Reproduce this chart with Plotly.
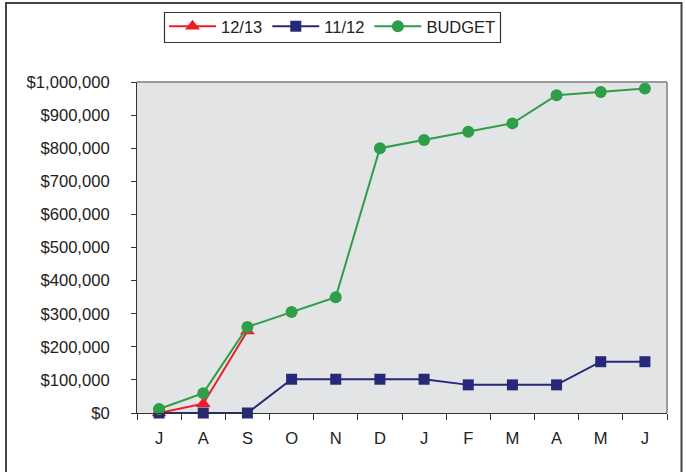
import plotly.graph_objects as go

months = ["J", "A", "S", "O", "N", "D", "J ", "F", "M", "A ", "M ", "J  "]
tick_text = ["J", "A", "S", "O", "N", "D", "J", "F", "M", "A", "M", "J"]
s1213 = [0, 28000, 248000]
s1112 = [0, 0, 0, 102000, 102000, 102000, 102000, 85000, 85000, 85000, 155000, 155000]
budget = [12000, 60000, 260000, 305000, 350000, 800000, 825000, 850000, 875000, 960000, 970000, 980000]
y_ticks = [0, 100000, 200000, 300000, 400000, 500000, 600000, 700000, 800000, 900000, 1000000]

W, H = 686, 472
L, R, T, B = 137, 19, 82, 59
pw, ph = W - L - R, H - T - B

def px(x):
    return (x - L) / pw

def py(y):
    return (H - B - y) / ph

fig = go.Figure()
fig.add_trace(go.Scatter(x=months[:len(s1213)], y=s1213, name="12/13", mode="lines+markers",
                         line=dict(color="#EE1C25", width=2), cliponaxis=False,
                         marker=dict(symbol="triangle-up", size=13, color="#EE1C25")))
fig.add_trace(go.Scatter(x=months, y=s1112, name="11/12", mode="lines+markers",
                         line=dict(color="#262878", width=2), cliponaxis=False,
                         marker=dict(symbol="square", size=11, color="#262878")))
fig.add_trace(go.Scatter(x=months, y=budget, name="BUDGET", mode="lines+markers",
                         line=dict(color="#2E9E48", width=2), cliponaxis=False,
                         marker=dict(symbol="circle", size=12, color="#2E9E48")))

fig.update_layout(
    width=W, height=H,
    margin=dict(l=L, r=R, t=T, b=B),
    paper_bgcolor="white", plot_bgcolor="#E3E4E6",
    font=dict(family="Liberation Sans, Arial, sans-serif", size=16.6, color="#222222"),
    showlegend=True,
    legend=dict(orientation="h", xref="container", yref="container",
                x=332.5 / W, xanchor="center", y=1 - 26.5 / H, yanchor="middle",
                borderwidth=0, font=dict(size=16.5),
                itemwidth=47, tracegroupgap=0, bgcolor="rgba(0,0,0,0)"),
    xaxis=dict(type="category", categoryorder="array", categoryarray=months,
               tickmode="array", tickvals=months, ticktext=tick_text,
               range=[-0.5, 11.5], showgrid=False, showline=True, linecolor="#333333",
               linewidth=1, ticks="outside", tickson="boundaries", ticklen=6,
               tickcolor="#333333", ticklabelstandoff=10, zeroline=False,
               automargin=False),
    yaxis=dict(range=[0, 1000000], tickvals=y_ticks, tickformat="$,.0f",
               showgrid=False, showline=True, linecolor="#333333", linewidth=1,
               ticks="outside", ticklen=5, tickcolor="#333333",
               ticklabelstandoff=18, zeroline=False, automargin=False),
    shapes=[
        dict(type="line", xref="paper", yref="paper", x0=0, x1=1, y0=1, y1=1,
             line=dict(color="#9A9A9A", width=2)),
        dict(type="line", xref="paper", yref="paper", x0=1, x1=1, y0=0, y1=1,
             line=dict(color="#9A9A9A", width=2)),
        dict(type="rect", xref="paper", yref="paper", x0=px(6), x1=px(681.5),
             y0=py(480), y1=py(3), line=dict(color="#444444", width=2)),
        dict(type="rect", xref="paper", yref="paper", x0=px(164.5), x1=px(500.5),
             y0=py(42.5), y1=py(12.5), line=dict(color="#333333", width=1.2)),
    ],
)

fig.write_html("out.html", config={"displayModeBar": False},
               post_script="document.body.style.margin='0';document.body.style.overflow='hidden';")
